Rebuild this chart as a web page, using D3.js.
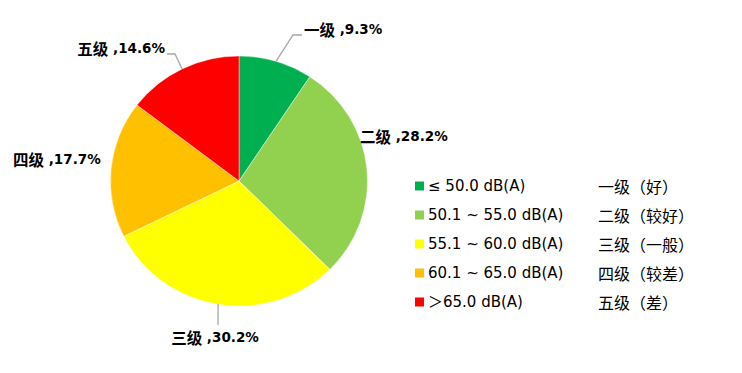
<!DOCTYPE html>
<html>
<head>
<meta charset="utf-8">
<script src="https://cdn.jsdelivr.net/npm/d3@7"></script>
<style>
  body { margin: 0; background: #fff; }
  svg { display: block; }
</style>
</head>
<body>
<div class="plot"></div>
<script>
// data
const categories = ["一级", "二级", "三级", "四级", "五级"];
const shares = [9.3, 28.2, 30.2, 17.7, 14.6];
const ranges = ["≤ 50.0 dB(A)", "50.1 ~ 55.0 dB(A)", "55.1 ~ 60.0 dB(A)", "60.1 ~ 65.0 dB(A)", "＞65.0 dB(A)"];
const levels = ["一级（好）", "二级（较好）", "三级（一般）", "四级（较差）", "五级（差）"];
const colors = ["#00B050", "#92D050", "#FFFF00", "#FFC000", "#FF0000"];

const W = 742, H = 373;
const cx = 239, cy = 181, rx = 128.5, ry = 125;

// label placement (text anchor point + optional elbow for leader line)
const labelLayout = [
  {x: 304, y: 29, anchor: "start", line: [[293, 35], [302, 35]]},
  {x: 360, y: 136, anchor: "start", line: null},
  {x: 215, y: 337, anchor: "middle", line: [[218, 325]]},
  {x: 13, y: 159, anchor: "start", line: null},
  {x: 165, y: 48, anchor: "end", line: [[175, 54], [167, 54]]}
];

const svg = d3.select(".plot")
  .append("svg")
    .attr("width", W)
    .attr("height", H);

const pie = d3.pie().sort(null).value(d => d.v);
const arcs = pie(categories.map((c, i) => ({c: c, v: shares[i], i: i})));
const arc = d3.arc().innerRadius(0).outerRadius(ry);

// slices
svg.append("g")
  .attr("transform", `translate(${cx},${cy}) scale(${rx / ry},1)`)
  .selectAll("path")
  .data(arcs)
  .enter()
  .append("path")
    .attr("d", arc)
    .attr("fill", d => colors[d.data.i])
    .attr("stroke", "#fff")
    .attr("stroke-width", 0.4);

// leader lines start on the rim at the slice's mid angle
const rim = d => {
  const a = (d.startAngle + d.endAngle) / 2;
  return [cx + rx * Math.sin(a), cy - ry * Math.cos(a)];
};

arcs.forEach((d, i) => {
  const L = labelLayout[i];
  if (L.line) {
    svg.append("path")
      .attr("d", d3.line()([rim(d)].concat(L.line)))
      .attr("fill", "none")
      .attr("stroke", "#A6A6A6")
      .attr("stroke-width", 1.3);
  }
  const t = svg.append("text")
    .attr("x", L.x)
    .attr("y", L.y)
    .attr("text-anchor", L.anchor)
    .attr("dominant-baseline", "central")
    .style("font-weight", "bold")
    .style("fill", "#000");
  t.append("tspan")
    .style("font-family", "'Noto Sans CJK SC', sans-serif")
    .style("font-size", "15.5px")
    .text(categories[i]);
  t.append("tspan")
    .style("font-family", "'DejaVu Sans', sans-serif")
    .style("font-size", "13.5px")
    .text(" ," + d3.format(".1f")(shares[i]) + "%");
});

// legend
const ly = d3.scalePoint().domain(categories).range([186, 302]);
const legend = svg.append("g").attr("id", "legend");
const rows = legend.selectAll("g")
  .data(categories)
  .enter()
  .append("g")
    .attr("transform", d => `translate(0,${ly(d)})`);

rows.append("rect")
  .attr("x", 415)
  .attr("y", -4.5)
  .attr("width", 9)
  .attr("height", 9)
  .attr("fill", (d, i) => colors[i]);

rows.append("text")
  .attr("x", 428)
  .attr("dominant-baseline", "central")
  .style("font-family", "'DejaVu Sans', 'Noto Sans CJK SC', sans-serif")
  .style("font-size", "15px")
  .text((d, i) => ranges[i]);

rows.append("text")
  .attr("x", 598)
  .attr("dominant-baseline", "central")
  .style("font-family", "'Noto Sans CJK SC', sans-serif")
  .style("font-size", "16px")
  .text((d, i) => levels[i]);
</script>
</body>
</html>
